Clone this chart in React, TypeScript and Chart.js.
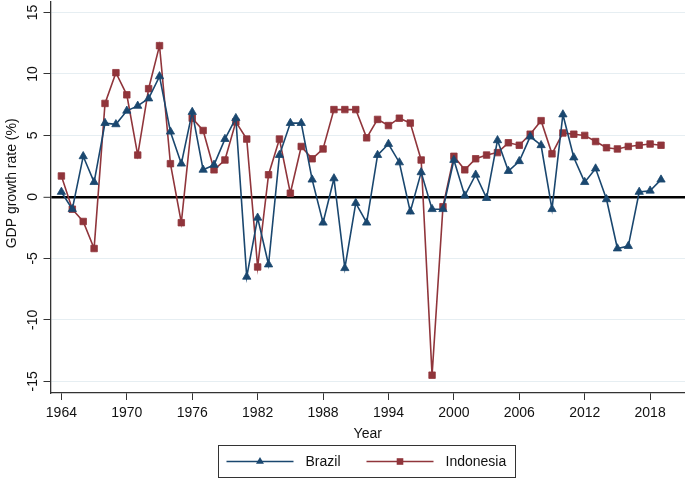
import React, { useEffect, useRef } from "react";
import { Chart, registerables } from "chart.js";

Chart.register(...registerables);

const years = [
  1964, 1965, 1966, 1967, 1968, 1969, 1970, 1971, 1972, 1973,
  1974, 1975, 1976, 1977, 1978, 1979, 1980, 1981, 1982, 1983,
  1984, 1985, 1986, 1987, 1988, 1989, 1990, 1991, 1992, 1993,
  1994, 1995, 1996, 1997, 1998, 1999, 2000, 2001, 2002, 2003,
  2004, 2005, 2006, 2007, 2008, 2009, 2010, 2011, 2012, 2013,
  2014, 2015, 2016, 2017, 2018, 2019,
];

const brazil = [
  0.4, -1.0, 3.3, 1.2, 6.0, 5.9, 7.0, 7.4, 8.0, 9.8,
  5.3, 2.7, 6.9, 2.2, 2.6, 4.7, 6.4, -6.5, -1.7, -5.5,
  3.4, 6.0, 6.0, 1.4, -2.1, 1.5, -5.8, -0.5, -2.1, 3.4,
  4.3, 2.8, -1.2, 2.0, -1.0, -1.0, 3.0, 0.1, 1.8, -0.1,
  4.6, 2.1, 2.9, 4.9, 4.2, -1.0, 6.7, 3.2, 1.2, 2.3,
  -0.2, -4.2, -4.0, 0.4, 0.5, 1.4,
];

const indonesia = [
  1.7, -1.0, -2.0, -4.2, 7.6, 10.1, 8.3, 3.4, 8.8, 12.3,
  2.7, -2.1, 6.4, 5.4, 2.2, 3.0, 6.1, 4.7, -5.7, 1.8,
  4.7, 0.3, 4.1, 3.1, 3.9, 7.1, 7.1, 7.1, 4.8, 6.3,
  5.8, 6.4, 6.0, 3.0, -14.5, -0.8, 3.3, 2.2, 3.1, 3.4,
  3.6, 4.4, 4.2, 5.1, 6.2, 3.5, 5.2, 5.1, 5.0, 4.5,
  4.0, 3.9, 4.1, 4.2, 4.3, 4.2,
];

const xTicks = [1964, 1970, 1976, 1982, 1988, 1994, 2000, 2006, 2012, 2018];
const yTicks = [-15, -10, -5, 0, 5, 10, 15];

const seriesNames = ["Brazil", "Indonesia"];
const seriesColors = ["#1a476f", "#90353b"];
const seriesMarkers = ["triangle", "rect"];

const yTitle = "GDP growth rate (%)";
const xTitle = "Year";

const FONT = '"Liberation Sans", Arial, Helvetica, sans-serif';
const TEXT = "#111111";

function drawMarker(ctx: CanvasRenderingContext2D, kind: string, x: number, y: number, color: string) {
  ctx.fillStyle = color;
  ctx.beginPath();
  if (kind === "triangle") {
    const r = 4.6;
    ctx.moveTo(x, y - r);
    ctx.lineTo(x + r * 0.866, y + r * 0.5);
    ctx.lineTo(x - r * 0.866, y + r * 0.5);
    ctx.closePath();
  } else {
    const s = 3.3;
    ctx.rect(x - s, y - s, 2 * s, 2 * s);
  }
  ctx.fill();
}

const decorPlugin = {
  id: "decor",
  afterDraw(chart: any) {
    const ctx: CanvasRenderingContext2D = chart.ctx;
    const ys = chart.scales.y;
    const area = chart.chartArea;
    ctx.save();
    // y tick labels, rotated
    ctx.font = `14px ${FONT}`;
    ctx.fillStyle = TEXT;
    ctx.textAlign = "center";
    ctx.textBaseline = "middle";
    for (const v of yTicks) {
      const py = ys.getPixelForValue(v);
      ctx.save();
      ctx.translate(ys.right - 17.5, py);
      ctx.rotate(-Math.PI / 2);
      ctx.fillText(String(v), 0, 0);
      ctx.restore();
    }
    // y title
    ctx.font = `14px ${FONT}`;
    ctx.save();
    ctx.translate(12, ys.getPixelForValue(1.1));
    ctx.rotate(-Math.PI / 2);
    ctx.fillText(yTitle, 0, 0);
    ctx.restore();

    // legend
    const cx = (area.left + area.right) / 2 - 1;
    const boxW = 297;
    const boxH = 32;
    const boxL = Math.round(cx - boxW / 2) + 0.5;
    const boxT = 445.5;
    ctx.strokeStyle = "#333333";
    ctx.lineWidth = 1;
    ctx.strokeRect(boxL, boxT, boxW, boxH);
    const midY = boxT + boxH / 2;
    const itemStarts = [boxL + 8, boxL + 148];
    const lineLen = 67;
    ctx.font = `14px ${FONT}`;
    ctx.textAlign = "left";
    ctx.textBaseline = "middle";
    seriesNames.forEach((name, i) => {
      const x0 = itemStarts[i];
      ctx.strokeStyle = seriesColors[i];
      ctx.lineWidth = 1.6;
      ctx.beginPath();
      ctx.moveTo(x0, midY);
      ctx.lineTo(x0 + lineLen, midY);
      ctx.stroke();
      drawMarker(ctx, seriesMarkers[i], x0 + lineLen / 2, midY, seriesColors[i]);
      ctx.fillStyle = TEXT;
      ctx.fillText(name, x0 + lineLen + 12, midY + 0.5);
    });
    ctx.restore();
  },
};

export default function App() {
  const ref = useRef<HTMLCanvasElement | null>(null);

  useEffect(() => {
    document.body.style.margin = "0";
    const canvas = ref.current;
    if (!canvas) return;
    const datasets = [brazil, indonesia].map((vals, i) => ({
      label: seriesNames[i],
      data: years.map((yr, j) => ({ x: yr, y: vals[j] })),
      borderColor: seriesColors[i],
      backgroundColor: seriesColors[i],
      borderWidth: 1.6,
      pointStyle: seriesMarkers[i],
      pointRadius: i === 0 ? 4.8 : 4.6,
      pointBorderWidth: 0.8,
      pointBorderColor: seriesColors[i],
      pointBackgroundColor: seriesColors[i],
      tension: 0,
      fill: false,
    }));

    const chart = new Chart(canvas, {
      type: "line",
      data: { datasets },
      plugins: [decorPlugin],
      options: {
        animation: false,
        responsive: false,
        devicePixelRatio: 1,
        layout: { autoPadding: false, padding: { top: 2, right: 0, bottom: 37, left: 0 } },
        plugins: {
          legend: { display: false },
          tooltip: { enabled: false },
        },
        scales: {
          x: {
            type: "linear",
            min: 1963,
            max: 2021.2,
            afterBuildTicks: (scale: any) => {
              scale.ticks = xTicks.map((v) => ({ value: v }));
            },
            afterFit: (scale: any) => {
              scale.height = 50;
            },
            ticks: {
              autoSkip: false,
              maxRotation: 0,
              minRotation: 0,
              padding: 5,
              color: TEXT,
              font: { family: FONT, size: 14 },
              callback: (v: any) => String(v),
            },
            grid: {
              drawOnChartArea: false,
              drawTicks: true,
              tickLength: 7,
              tickColor: "#333333",
              tickWidth: 1,
            },
            border: { display: true, color: "#333333", width: 1.3 },
            title: {
              display: true,
              text: xTitle,
              color: TEXT,
              font: { family: FONT, size: 14, lineHeight: 1.2 },
              padding: { top: 0, bottom: 0 },
            },
          },
          y: {
            type: "linear",
            min: -15.95,
            max: 15.85,
            afterBuildTicks: (scale: any) => {
              scale.ticks = yTicks.map((v) => ({ value: v }));
            },
            afterFit: (scale: any) => {
              scale.width = 50.5;
            },
            ticks: { display: false },
            grid: {
              color: (c: any) => (c.tick && c.tick.value === 0 ? "#000000" : "#e6eef2"),
              lineWidth: (c: any) => (c.tick && c.tick.value === 0 ? 2.6 : 1),
              drawTicks: true,
              tickLength: 7,
              tickColor: "#333333",
              tickWidth: 1,
            },
            border: { display: true, color: "#333333", width: 1.3 },
          },
        },
      },
    } as any);
    return () => chart.destroy();
  }, []);

  return (
    <div style={{ position: "fixed", left: 0, top: 0, width: 685, height: 480, background: "#fff" }}>
      <canvas ref={ref} width={685} height={480} style={{ width: 685, height: 480, display: "block" }} />
    </div>
  );
}
